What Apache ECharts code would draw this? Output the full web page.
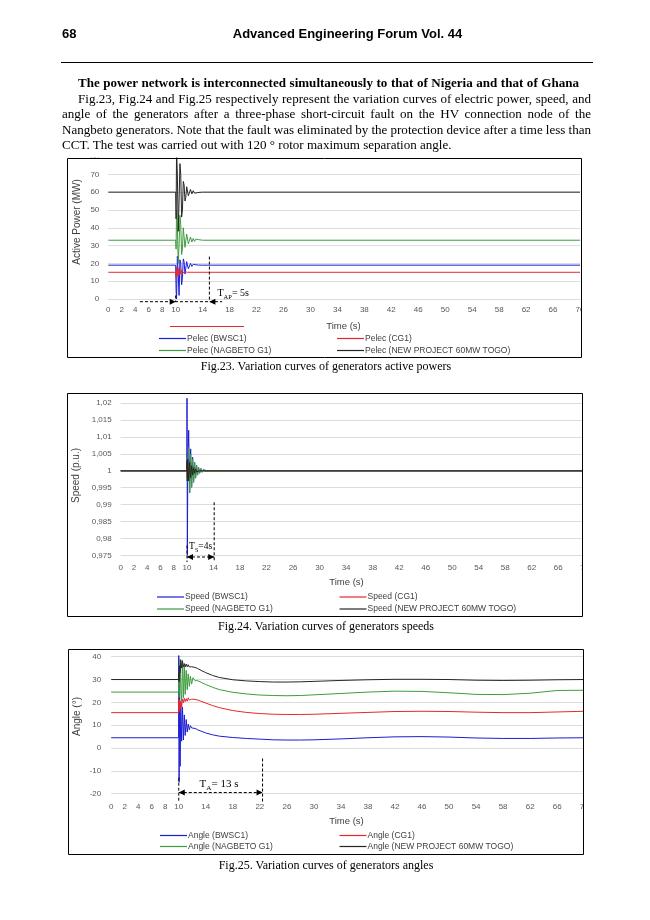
<!DOCTYPE html>
<html>
<head>
<meta charset="utf-8">
<script src="https://cdn.jsdelivr.net/npm/echarts/dist/echarts.min.js"></script>
<style>
html,body{margin:0;padding:0;background:#fff;}
body{width:650px;height:920px;position:relative;overflow:hidden;}
#chart{position:absolute;left:0;top:0;width:650px;height:920px;}
.t{position:absolute;white-space:nowrap;line-height:1;color:#000;}
.serif{font-family:"Liberation Serif","Times New Roman",serif;}
.sans{font-family:"Liberation Sans",Arial,sans-serif;}
.b{font-weight:bold;}
.c{transform:translateX(-50%);}
</style>
</head>
<body>
<div id="chart"></div>
<div class="t sans b" style="left:62px;top:26.5px;font-size:13px">68</div>
<div class="t sans b c" style="left:347.5px;top:26.5px;font-size:13px">Advanced Engineering Forum Vol. 44</div>
<div style="position:absolute;left:60.5px;top:62px;width:532px;height:1px;background:#000"></div>
<div class="t serif b para j" data-w="501" data-cy="84" style="left:78px">The power network is interconnected simultaneously to that of Nigeria and that of Ghana</div>
<div class="t serif para j" data-w="513" data-cy="99.5" style="left:78px">Fig.23, Fig.24 and Fig.25 respectively represent the variation curves of electric power, speed, and</div>
<div class="t serif para j" data-w="529" data-cy="115" style="left:62px">angle of the generators after a three-phase short-circuit fault on the HV connection node of the</div>
<div class="t serif para j" data-w="529" data-cy="130.5" style="left:62px">Nangbeto generators. Note that the fault was eliminated by the protection device after a time less than</div>
<div class="t serif para" id="lastline" data-cy="146" style="left:62px">CCT. The test was carried out with 120 ° rotor maximum separation angle.</div>
<div class="t serif c cap" data-cy="367" style="left:326px">Fig.23. Variation curves of generators active powers</div>
<div class="t serif c cap" data-cy="627" style="left:326px">Fig.24. Variation curves of generators speeds</div>
<div class="t serif c cap" data-cy="866" style="left:326px">Fig.25. Variation curves of generators angles</div>

<script>
// ---------------- DATA ----------------
const X_TICKS = [0, 2, 4, 6, 8, 10, 14, 18, 22, 26, 30, 34, 38, 42, 46, 50, 54, 58, 62, 66, 70];
const Y1_TICKS = [0, 10, 20, 30, 40, 50, 60, 70, 80];
const Y2_TICKS = [0.975, 0.98, 0.985, 0.99, 0.995, 1, 1.005, 1.01, 1.015, 1.02];
const Y3_TICKS = [-20, -10, 0, 10, 20, 30, 40];

// Fig.23 active power (MW)
const P_NAMES = ['Pelec (BWSC1)', 'Pelec (CG1)', 'Pelec (NAGBETO G1)', 'Pelec (NEW PROJECT 60MW TOGO)'];
const T1 = [0, 10, 10.06, 10.13, 10.25, 10.38, 10.5, 10.63, 10.75, 10.88, 11, 11.13, 11.25, 11.38, 11.5, 11.63, 11.75, 11.88, 12, 12.2, 12.4, 12.6, 12.8, 13, 13.2, 13.4, 13.6, 14, 70];
const P_BWSC1 = [19, 19, 5, 0, 24, 14, 2, 22, 20, 8, 12, 22.5, 21, 14, 15, 21, 20.5, 17, 17.3, 20, 18.3, 19.5, 18.8, 19.2, 18.9, 19.05, 19, 19, 19];
const P_CG1 = [15, 15, 12, 18, 13, 17, 13.5, 16.5, 14, 16, 14.5, 15.6, 14.6, 15.3, 14.8, 15.2, 15, 15, 15, 15, 15, 15, 15, 15, 15, 15, 15, 15, 15];
const P_NAG = [33, 33, 28, 50, 40, 20, 30, 47, 42, 25, 28, 40, 39, 29, 30, 36.5, 36, 31, 31.5, 34.8, 32, 34, 32.3, 33.6, 32.6, 33.3, 32.9, 33, 33];
const P_TOGO = [60, 60, 45, 84, 70, 38, 55, 76, 70, 46, 50, 66, 64, 55, 57, 63, 62, 58, 58.5, 61.5, 59, 60.8, 59.4, 60.5, 59.7, 60.3, 59.9, 60, 60];

// Fig.24 speed (p.u.)
const S_NAMES = ['Speed (BWSC1)', 'Speed (CG1)', 'Speed (NAGBETO G1)', 'Speed (NEW PROJECT 60MW TOGO)'];
const T2 = [0, 9.98, 10, 10.05, 10.12, 10.25, 10.4, 10.55, 10.7, 10.85, 11, 11.15, 11.3, 11.45, 11.6, 11.75, 11.9, 12.1, 12.3, 12.5, 12.7, 12.9, 13.2, 13.5, 14, 70];
const S_BWSC1 = [1, 1, 1.0215, 0.975, 0.999, 1.012, 0.9935, 1.0065, 0.9955, 1.004, 0.997, 1.0025, 0.998, 1.0015, 0.9988, 1.001, 0.9993, 1.0006, 0.9996, 1.0003, 0.9998, 1.0001, 1, 1, 1, 1];
const S_CG1 = [1, 1, 1.002, 0.998, 1.0025, 0.998, 1.0018, 0.9985, 1.001, 0.9992, 1.0006, 0.9996, 1.0003, 1, 1, 1, 1, 1, 1, 1, 1, 1, 1, 1, 1, 1];
const S_NAG = [1, 1, 1.001, 0.997, 1.003, 1.007, 0.9935, 1.005, 0.995, 1.0035, 0.9965, 1.0025, 0.9978, 1.0017, 0.9987, 1.001, 0.9993, 1.0007, 0.9996, 1.0004, 0.9998, 1.0002, 0.9999, 1, 1, 1];
const S_TOGO = [1, 1, 1.003, 0.997, 1.0035, 0.997, 1.0025, 0.998, 1.0015, 0.9988, 1.0009, 0.9993, 1.0005, 0.9997, 1.0002, 0.9999, 1, 1, 1, 1, 1, 1, 1, 1, 1, 1];

// Fig.25 angle (deg)
const A_NAMES = ['Angle (BWSC1)', 'Angle (CG1)', 'Angle (NAGBETO G1)', 'Angle (NEW PROJECT 60MW TOGO)'];
const T3 = [0, 9.98, 10, 10.05, 10.12, 10.2, 10.3, 10.42, 10.55, 10.68, 10.82, 10.95, 11.1, 11.25, 11.4, 11.56, 11.72, 11.9, 12.1, 12.4, 12.8, 13.3, 14, 15, 16, 18, 20, 22, 24, 26, 28, 30, 34, 38, 42, 46, 50, 54, 58, 62, 66, 70];
const A_BWSC1 = [4.5, 4.5, 40.5, -15, 36, -8, 20, 3, 18, 3.5, 14.5, 5.5, 12.5, 7, 10.5, 8, 9.8, 8.8, 9.2, 8.6, 8.0, 7.4, 6.6, 5.8, 5.2, 4.6, 4.2, 3.9, 3.6, 3.5, 3.5, 3.6, 4.0, 4.5, 4.9, 5.0, 4.8, 4.4, 4.2, 4.2, 4.4, 4.5];
const A_CG1 = [15.5, 15.5, 21.5, 16, 21, 17, 20.5, 18, 21.5, 19.8, 21.8, 20.3, 21.6, 20.5, 22, 21, 21.8, 21.4, 21.5, 21.3, 21, 20.5, 19.7, 18.6, 17.7, 16.4, 15.6, 15.1, 14.8, 14.7, 14.7, 14.8, 15.2, 15.6, 16.0, 16.1, 16.0, 15.7, 15.5, 15.5, 15.8, 16.1];
const A_NAG = [24.5, 24.5, 30, 22, 36, 39, 26, 20.5, 38.5, 22, 36, 23.5, 34, 25.5, 32.5, 27, 31.5, 28, 30.8, 29.5, 29.5, 28.8, 27.8, 26.6, 25.6, 24.4, 23.7, 23.2, 23, 22.9, 23, 23.3, 23.9, 24.5, 24.9, 24.8, 24.2, 23.5, 23.4, 24.0, 25.2, 25.3];
const A_TOGO = [30, 30, 33, 29, 36, 33, 38.5, 35, 38, 35.5, 37, 35.5, 36.8, 35.6, 36.5, 35.5, 36.3, 35.6, 36, 35.3, 34.8, 34.0, 33.0, 31.8, 30.9, 29.9, 29.4, 29.1, 28.9, 28.9, 29.0, 29.2, 29.6, 29.9, 30.1, 30.1, 30.0, 29.7, 29.6, 29.7, 29.9, 30.0];

// ---------------- PAGE TEXT LAYOUT ----------------
(function layoutText(){
  const last = document.getElementById('lastline');
  last.style.fontSize = '12px';
  let fs = 12 * 390 / last.getBoundingClientRect().width;
  fs = Math.max(11, Math.min(13.5, fs));
  document.querySelectorAll('.para').forEach(el => {
    el.style.fontSize = fs + 'px';
    el.style.top = (parseFloat(el.dataset.cy) - 0.61 * fs) + 'px';
  });
  document.querySelectorAll('.cap').forEach(el => {
    el.style.fontSize = '12px';
    el.style.top = (parseFloat(el.dataset.cy) - 0.61 * 12) + 'px';
  });
  document.querySelectorAll('.j').forEach(el => {
    el.style.wordSpacing = '0px';
    const w = el.getBoundingClientRect().width;
    const n = (el.textContent.match(/ /g) || []).length;
    el.style.wordSpacing = ((parseFloat(el.dataset.w) - w) / n) + 'px';
  });
})();

// ---------------- CHART ----------------
const COLORS = ['#1c1cd4', '#e8262e', '#3d9b3d', '#262626'];
const FONT = '"Liberation Sans", Arial, sans-serif';
const chart = echarts.init(document.getElementById('chart'), null, {renderer: 'canvas'});

const GRIDS = [
  {left: 108.3, top: 156.5, width: 471.7, height: 142.5},
  {left: 120.7, top: 386.4, width: 464.1, height: 168.9},
  {left: 111.2, top: 656.7, width: 473, height: 137}
];
const YCFG = [
  {min: 0, max: 80, interval: 10, ticks: Y1_TICKS, margin: 9},
  {min: 0.975, max: 1.025, interval: 0.005, ticks: Y2_TICKS, margin: 9},
  {min: -20, max: 40, interval: 10, ticks: Y3_TICKS, margin: 10}
];
const XMARGIN = [7, 8, 9];
const BOXES = [
  {l: 67, t: 158, r: 581, b: 357},
  {l: 67, t: 393, r: 582, b: 616},
  {l: 68, t: 649, r: 583, b: 854}
];
const LEG_COLS = [[159, 337], [157, 339.5], [160, 339.5]];
const LEG_ROWS = [[339, 351], [597.5, 609.5], [836, 847]];
const AXIS_T = [
  {x: 343.5, y: 326, yx: 77, yy: 222, ytext: 'Active Power (MW)'},
  {x: 346.5, y: 582.5, yx: 76.7, yy: 475.5, ytext: 'Speed (p.u.)'},
  {x: 346.5, y: 821.5, yx: 77.3, yy: 716.5, ytext: 'Angle (°)'}
];

function fmt(ticks){
  return function(v){
    for (const t of ticks) if (Math.abs(v - t) < 1e-7) return String(t).replace('.', ',');
    return '';
  };
}

const grid = GRIDS.map(g => Object.assign({containLabel: false, outerBoundsMode: 'none'}, g));
const xAxis = GRIDS.map((g, i) => ({
  gridIndex: i, type: 'value', min: 0, max: 70, interval: 2,
  axisLine: {show: false}, axisTick: {show: false}, splitLine: {show: false},
  axisLabel: {formatter: fmt(X_TICKS), fontSize: 8, color: '#595959', fontFamily: FONT, margin: XMARGIN[i], showMinLabel: true, showMaxLabel: true}
}));
const yAxis = YCFG.map((c, i) => ({
  gridIndex: i, type: 'value', min: c.min, max: c.max, interval: c.interval,
  axisLine: {show: false}, axisTick: {show: false},
  splitLine: {show: true, lineStyle: {color: '#dcdcdc', width: 1}},
  axisLabel: {formatter: fmt(c.ticks), fontSize: 8, color: '#595959', fontFamily: FONT, margin: c.margin, showMinLabel: true, showMaxLabel: true}
}));

function mk(names, T, vals, gi){
  return names.map((n, j) => ({
    name: n, type: 'line', xAxisIndex: gi, yAxisIndex: gi,
    data: T.map((t, k) => [t, vals[j][k]]),
    symbol: 'none', showSymbol: false, clip: gi !== 2,
    lineStyle: {width: 1, color: COLORS[j]}, itemStyle: {color: COLORS[j]},
    emphasis: {disabled: true}, z: 2 + j, animation: false
  }));
}
const series = [].concat(
  mk(P_NAMES, T1, [P_BWSC1, P_CG1, P_NAG, P_TOGO], 0),
  mk(S_NAMES, T2, [S_BWSC1, S_CG1, S_NAG, S_TOGO], 1),
  mk(A_NAMES, T3, [A_BWSC1, A_CG1, A_NAG, A_TOGO], 2)
);

const legend = [];
[P_NAMES, S_NAMES, A_NAMES].forEach((names, ci) => {
  names.forEach((n, j) => {
    legend.push({
      data: [n], left: LEG_COLS[ci][j % 2], top: LEG_ROWS[ci][Math.floor(j / 2)] - 5,
      padding: 0, icon: 'rect', itemWidth: 27, itemHeight: 1.2, itemGap: 0, selectedMode: false,
      textStyle: {fontSize: 8.5, color: '#404040', fontFamily: FONT, padding: [0, 0, 0, -4]}
    });
  });
});

chart.setOption({animation: false, grid, xAxis, yAxis, series, legend});

// ---------------- GRAPHICS (frames, titles, annotations) ----------------
function P(g, t, v){ return chart.convertToPixel({gridIndex: g}, [t, v]); }
const dash = {stroke: '#000', lineWidth: 1, lineDash: [3, 2]};
function dline(g, t1, v1, t2, v2){
  const a = P(g, t1, v1), b = P(g, t2, v2);
  return {type: 'line', z: 70, silent: true, shape: {x1: a[0], y1: a[1], x2: b[0], y2: b[1]}, style: dash};
}
function head(g, t, v, dir){
  const p = P(g, t, v);
  return {type: 'polygon', z: 71, silent: true, shape: {points: [[p[0], p[1]], [p[0] - dir * 6, p[1] - 3], [p[0] - dir * 6, p[1] + 3]]}, style: {fill: '#000'}};
}
function lbl(g, t, v, main, sub, rest, fs, align){
  const p = P(g, t, v);
  const fam = '"Liberation Serif", "Times New Roman", serif';
  return {type: 'text', z: 72, silent: true, x: p[0], y: p[1], style: {
    text: '{a|' + main + '}{b|' + sub + '}{a|' + rest + '}', align: align, verticalAlign: 'middle',
    rich: {
      a: {fontSize: fs, fontFamily: fam, fill: '#000', lineHeight: fs * 1.1, padding: [0, 0, 2, 0], verticalAlign: 'bottom'},
      b: {fontSize: fs * 0.65, fontFamily: fam, fill: '#000', lineHeight: fs * 0.72, verticalAlign: 'bottom'}
    }
  }};
}

const G = [];
BOXES.forEach(b => {
  G.push({type: 'rect', z: 50, silent: true, shape: {x: b.l - 6, y: b.t - 14, width: b.r - b.l + 12, height: 13.5}, style: {fill: '#fff'}});
  G.push({type: 'rect', z: 50, silent: true, shape: {x: b.r + 0.5, y: b.t - 14, width: 650 - b.r, height: b.b - b.t + 20}, style: {fill: '#fff'}});
  G.push({type: 'rect', z: 60, silent: true, shape: {x: b.l + 0.5, y: b.t + 0.5, width: b.r - b.l, height: b.b - b.t}, style: {fill: 'none', stroke: '#000', lineWidth: 1}});
});
AXIS_T.forEach(a => {
  G.push({type: 'text', z: 61, silent: true, x: a.x, y: a.y, style: {text: 'Time (s)', font: '9.5px ' + FONT, fill: '#404040', align: 'center', verticalAlign: 'middle'}});
  G.push({type: 'text', z: 61, silent: true, x: a.yx, y: a.yy, rotation: Math.PI / 2, style: {text: a.ytext, font: '10px ' + FONT, fill: '#404040', align: 'center', verticalAlign: 'middle'}});
});
// stray red stroke under Fig.23 axis
G.push({type: 'line', z: 61, silent: true, shape: {x1: 170, y1: 326.5, x2: 244, y2: 326.5}, style: {stroke: '#e8262e', lineWidth: 1}});

// Fig.23 annotation: T_AP = 5 s (from t=10 to t=15)
G.push(dline(0, 4.7, -1.5, 16.9, -1.5));
G.push(dline(0, 15, 23.8, 15, -1.5));
G.push(dline(0, 10, 2, 10, -1.5));
G.push(head(0, 10, -1.5, 1));
G.push(head(0, 15, -1.5, -1));
G.push(lbl(0, 16.2, 2.2, 'T', 'AP', '= 5s', 10, 'left'));

// Fig.24 annotation: Ts = 4 s
G.push(dline(1, 10, 0.9779, 10, 0.9730));
G.push(dline(1, 14.1, 0.9907, 14.1, 0.9730));
G.push(dline(1, 10, 0.9745, 14.1, 0.9745));
G.push(head(1, 10, 0.9745, -1));
G.push(head(1, 14.1, 0.9745, 1));
G.push(lbl(1, 12.05, 0.9771, 'T', 'S', '=4s', 9.5, 'center'));

// Fig.25 annotation: T_A = 13 s
G.push(dline(2, 10, -13, 10, -23.7));
G.push(dline(2, 22.4, -4.6, 22.4, -23.7));
G.push(dline(2, 10, -19.5, 22.4, -19.5));
G.push(head(2, 10, -19.5, -1));
G.push(head(2, 22.4, -19.5, 1));
G.push(lbl(2, 15.95, -16.3, 'T', 'A', '= 13 s', 11, 'center'));

chart.setOption({graphic: {elements: G}});
</script>
</body>
</html>
